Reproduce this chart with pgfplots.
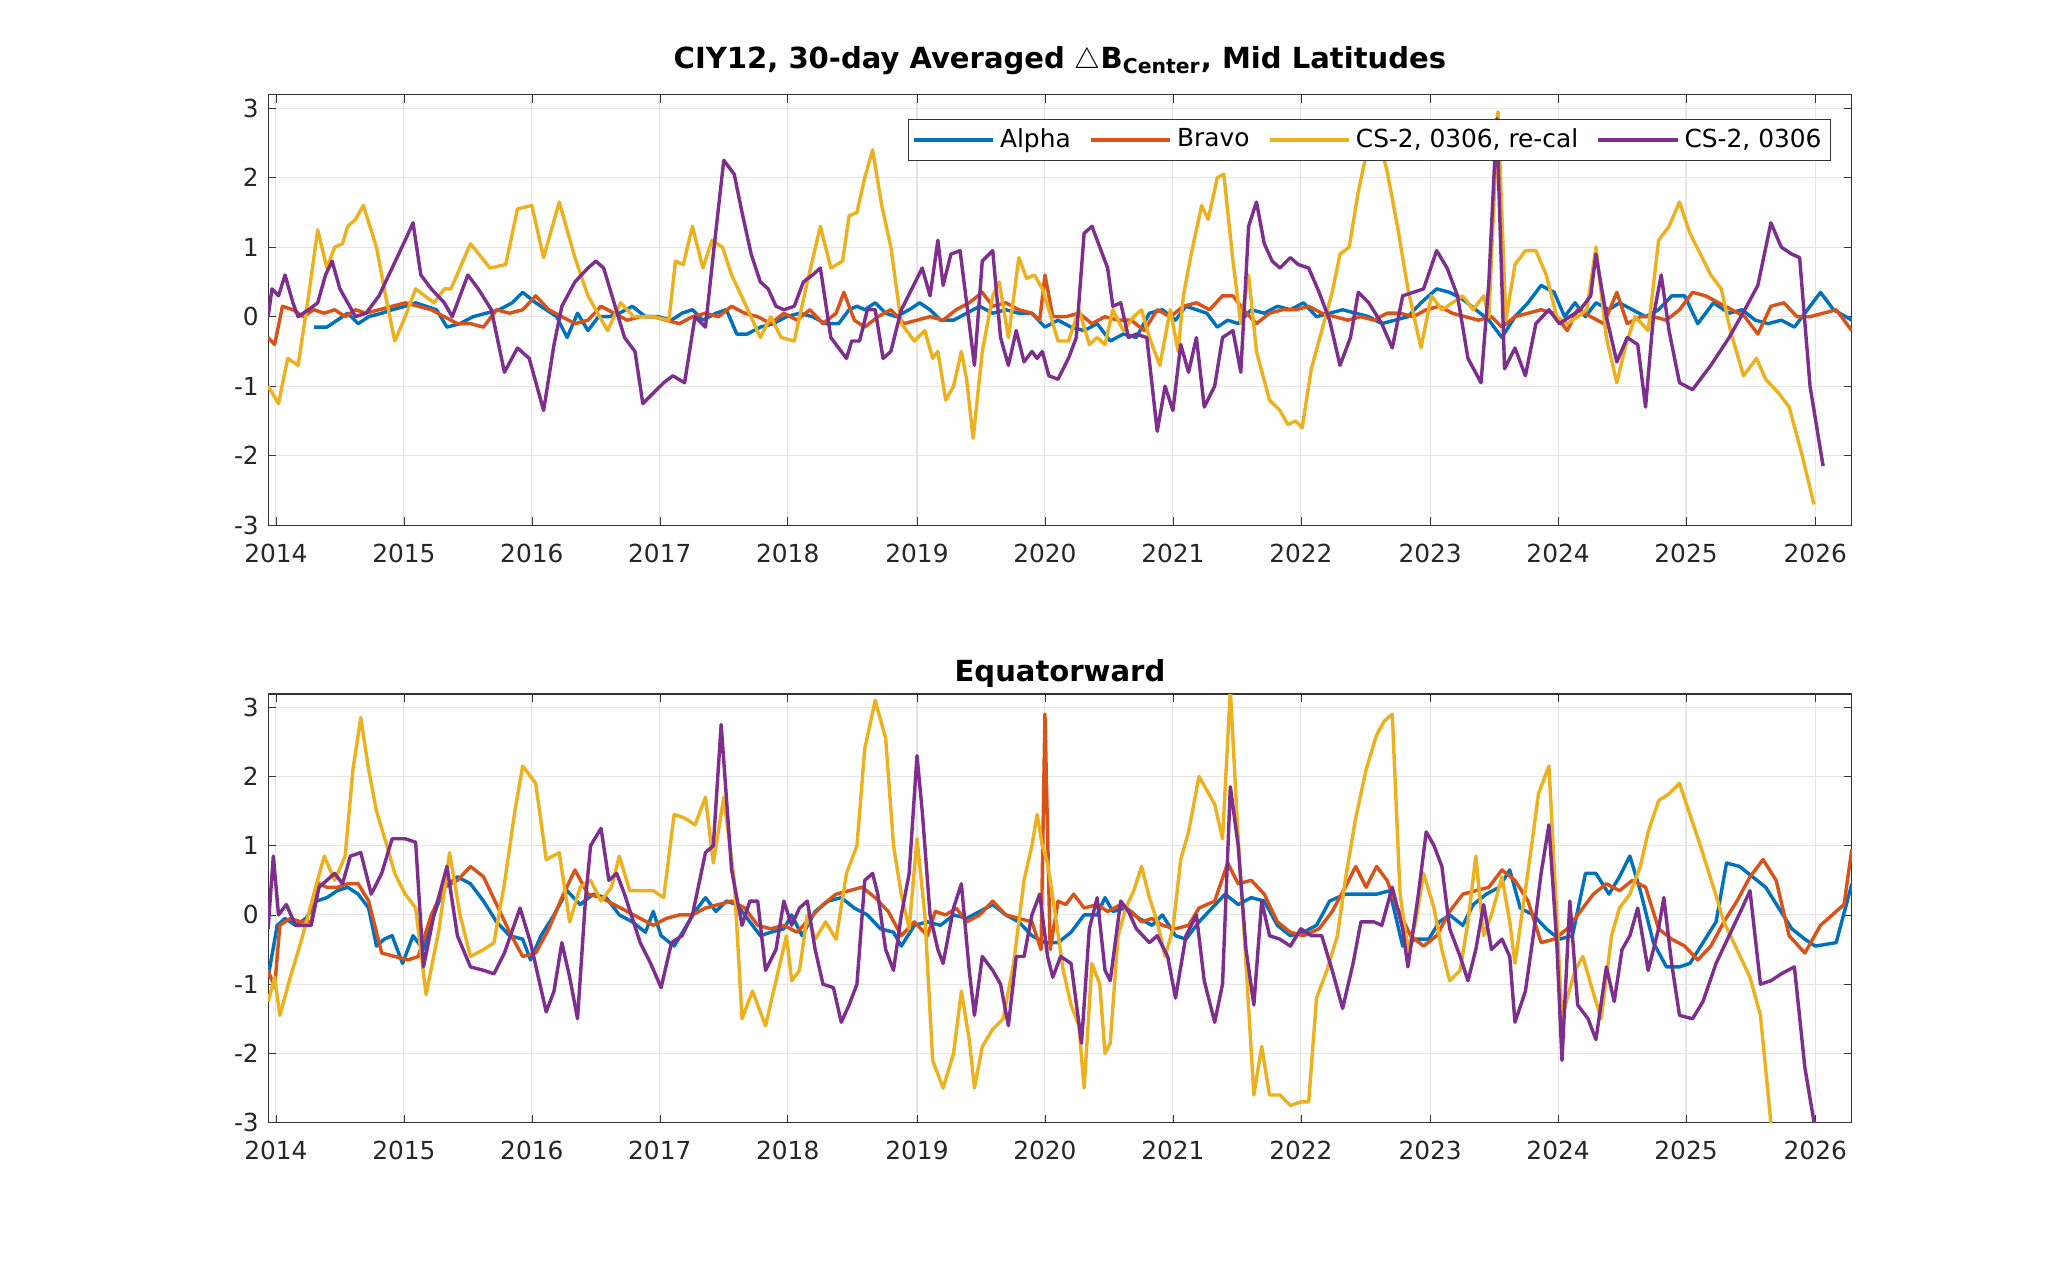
\documentclass[border=0pt]{standalone}
\usepackage{pgfplots}
\pgfplotsset{compat=1.18}
\usepackage{fontspec}
\setmainfont{DejaVu Sans}
\definecolor{mA}{RGB}{0,114,189}
\definecolor{mB}{RGB}{217,83,25}
\definecolor{mC}{RGB}{237,177,32}
\definecolor{mD}{RGB}{126,47,142}
\pgfplotsset{myax/.style={
 scale only axis, width=599.6pt,
 xmin=205, xmax=1418, ymin=-3, ymax=3.19,
 xtick={211,309,407,505,603,702,800,898,996,1095,1193,1291,1390},
 xticklabels={2014,2015,2016,2017,2018,2019,2020,2021,2022,2023,2024,2025,2026},
 ytick={-3,-2,-1,0,1,2,3},
 yticklabels={-3,-2,-1,0,1,2,3},
 grid=major, major grid style={gray!20},
 tick align=inside, major tick length=3pt,
 axis line style={black!80}, tick style={black!80},
 ticklabel style={font=\fontsize{9.4}{11}\selectfont, text=black!85},
 xticklabel style={yshift=-3.5pt},
 title style={font=\bfseries\fontsize{11}{13}\selectfont, yshift=-2pt},
 every axis plot/.append style={line width=1.3pt, line join=round},
 clip=true}}
\begin{document}
\begin{tikzpicture}[x=1pt,y=1pt]
\path[use as bounding box] (0,0) rectangle (775,477.5);
\begin{axis}[myax, height=162.9pt, at={(101.5pt,278.65pt)}, anchor=south west,
 title={CIY12, 30-day Averaged $\triangle$B\textsubscript{Center}, Mid Latitudes},
 legend columns=4, legend style={at={(0.987,0.945)}, anchor=north east, font=\fontsize{9.4}{11}\selectfont, draw=black!80, inner sep=1.5pt, /tikz/every even column/.append style={column sep=5pt}},
 legend image code/.code={\draw[#1, line width=1.3pt] (0pt,0pt) -- (30pt,0pt);}]
\addplot[mA] coordinates {(240,-0.15)(250,-0.15)(258,-0.05)(266,0.05)(274,-0.1)(282,0.0)(292,0.05)(300,0.1)(310,0.15)(318,0.2)(326,0.15)(334,0.1)(342,-0.15)(352,-0.1)(362,0.0)(372,0.05)(382,0.1)(392,0.2)(400,0.35)(410,0.2)(418,0.1)(426,0.0)(434,-0.3)(442,0.05)(450,-0.2)(458,0.0)(466,0.0)(474,0.05)(484,0.15)(494,0.0)(504,0.0)(514,-0.05)(522,0.05)(530,0.1)(538,-0.05)(548,0.05)(556,0.1)(564,-0.25)(572,-0.25)(582,-0.15)(592,-0.1)(602,0.0)(612,0.05)(622,0.0)(632,-0.1)(642,-0.1)(650,0.1)(656,0.15)(662,0.1)(670,0.2)(678,0.05)(686,0.0)(696,0.1)(704,0.2)(712,0.1)(720,-0.05)(730,-0.05)(740,0.05)(750,0.15)(760,0.05)(770,0.1)(780,0.05)(790,0.05)(800,-0.15)(810,-0.05)(820,-0.15)(830,-0.2)(840,-0.1)(850,-0.35)(860,-0.25)(870,-0.3)(880,0.05)(890,0.1)(900,-0.05)(908,0.15)(916,0.1)(924,0.05)(932,-0.15)(940,-0.05)(948,-0.1)(958,0.1)(968,0.05)(978,0.15)(988,0.1)(998,0.2)(1008,0.0)(1018,0.05)(1028,0.1)(1038,0.05)(1048,0.0)(1058,-0.1)(1068,-0.05)(1078,0.0)(1088,0.2)(1100,0.4)(1110,0.35)(1120,0.25)(1130,0.1)(1140,-0.05)(1150,-0.3)(1160,0.0)(1170,0.2)(1180,0.45)(1190,0.35)(1198,0.0)(1206,0.2)(1214,0.0)(1222,0.2)(1232,0.1)(1240,0.2)(1250,0.1)(1260,0.0)(1270,0.1)(1280,0.3)(1290,0.3)(1300,-0.1)(1312,0.2)(1324,0.05)(1334,0.1)(1344,-0.05)(1354,-0.1)(1364,-0.05)(1374,-0.15)(1384,0.1)(1394,0.35)(1404,0.1)(1418,-0.05)};
\addlegendentry{Alpha}
\addplot[mB] coordinates {(205,-0.3)(210,-0.4)(216,0.15)(224,0.1)(232,0.0)(240,0.1)(248,0.05)(256,0.1)(264,0.0)(272,0.1)(280,0.05)(290,0.1)(300,0.15)(310,0.2)(320,0.15)(330,0.1)(340,0.0)(350,-0.1)(360,-0.1)(370,-0.15)(380,0.1)(390,0.05)(400,0.1)(410,0.3)(420,0.1)(430,0.0)(440,-0.1)(450,-0.05)(460,0.15)(470,0.05)(480,-0.05)(490,0.0)(500,0.0)(510,-0.05)(520,-0.1)(530,0.0)(540,0.05)(550,0.0)(560,0.15)(570,0.05)(580,0.0)(590,-0.1)(600,0.05)(610,-0.05)(620,0.1)(630,-0.1)(640,0.05)(646,0.35)(654,-0.05)(662,-0.15)(672,0.0)(682,0.1)(692,-0.1)(702,-0.05)(712,0.0)(722,-0.05)(732,0.1)(742,0.2)(752,0.35)(760,0.15)(770,0.2)(780,0.1)(790,0.05)(796,-0.05)(800,0.6)(806,0.0)(816,0.0)(826,0.05)(836,-0.1)(846,0.0)(856,-0.05)(866,-0.05)(876,-0.2)(886,0.1)(896,0.0)(906,0.15)(916,0.2)(926,0.1)(936,0.3)(944,0.3)(952,0.1)(962,-0.1)(972,0.05)(982,0.1)(992,0.1)(1002,0.15)(1012,0.05)(1022,0.0)(1032,-0.05)(1042,0.0)(1052,-0.05)(1062,0.05)(1072,0.05)(1082,0.0)(1092,0.1)(1102,0.15)(1112,0.05)(1122,0.0)(1132,-0.05)(1142,0.0)(1150,-0.15)(1160,0.0)(1170,0.05)(1180,0.1)(1190,0.05)(1200,-0.2)(1208,0.1)(1218,0.0)(1228,-0.1)(1238,0.35)(1246,-0.1)(1256,0.0)(1266,0.0)(1276,-0.05)(1286,0.1)(1296,0.35)(1306,0.3)(1316,0.2)(1326,0.1)(1336,0.0)(1346,-0.25)(1356,0.15)(1366,0.2)(1376,0.0)(1386,0.0)(1396,0.05)(1406,0.1)(1418,-0.2)};
\addlegendentry{Bravo}
\addplot[mC] coordinates {(205,-1.0)(213,-1.25)(220,-0.6)(228,-0.7)(236,0.3)(243,1.25)(250,0.7)(256,1.0)(262,1.05)(266,1.3)(272,1.4)(278,1.6)(288,1.0)(295,0.3)(302,-0.35)(310,0.0)(318,0.4)(325,0.3)(332,0.2)(340,0.4)(345,0.4)(360,1.05)(375,0.7)(387,0.75)(396,1.55)(407,1.6)(416,0.85)(428,1.65)(440,0.85)(450,0.3)(465,-0.2)(475,0.2)(485,0.0)(500,0.0)(512,-0.05)(517,0.8)(523,0.75)(530,1.3)(538,0.7)(545,1.1)(553,1.0)(560,0.6)(570,0.2)(582,-0.3)(590,0.0)(598,-0.3)(608,-0.35)(618,0.5)(628,1.3)(636,0.7)(645,0.8)(650,1.45)(656,1.5)(662,2.0)(668,2.4)(675,1.6)(682,1.0)(690,-0.1)(700,-0.35)(708,-0.2)(714,-0.6)(718,-0.5)(724,-1.2)(730,-1.0)(736,-0.5)(740,-0.9)(745,-1.75)(752,-0.5)(760,0.3)(765,0.5)(772,-0.3)(780,0.85)(786,0.55)(792,0.6)(798,0.4)(803,0.1)(810,-0.35)(818,-0.35)(826,0.1)(834,-0.4)(840,-0.3)(846,-0.4)(852,0.1)(860,-0.2)(868,0.0)(874,0.1)(880,-0.3)(888,-0.7)(896,0.1)(902,-0.5)(906,0.3)(912,0.9)(920,1.6)(925,1.4)(932,2.0)(937,2.05)(944,0.8)(950,-0.1)(956,0.6)(962,-0.5)(972,-1.2)(980,-1.35)(986,-1.55)(992,-1.5)(997,-1.6)(1004,-0.75)(1012,-0.2)(1020,0.35)(1026,0.9)(1033,1.0)(1040,1.8)(1048,2.5)(1055,2.6)(1062,2.1)(1070,1.3)(1078,0.4)(1088,-0.45)(1096,0.3)(1104,0.1)(1112,0.2)(1120,0.3)(1128,0.1)(1136,0.3)(1140,0.0)(1147,2.95)(1153,-0.05)(1160,0.75)(1168,0.95)(1176,0.95)(1184,0.6)(1192,0.0)(1200,-0.1)(1208,0.0)(1215,0.1)(1222,1.0)(1230,-0.3)(1238,-0.95)(1245,-0.4)(1252,0.0)(1262,-0.2)(1270,1.1)(1278,1.3)(1286,1.65)(1294,1.2)(1302,0.9)(1310,0.6)(1318,0.4)(1325,-0.2)(1335,-0.85)(1345,-0.6)(1352,-0.9)(1362,-1.1)(1370,-1.3)(1380,-2.0)(1389,-2.7)};
\addlegendentry{CS-2, 0306, re-cal}
\addplot[mD] coordinates {(205,0.0)(208,0.4)(213,0.3)(218,0.6)(224,0.2)(228,0.0)(236,0.1)(243,0.2)(249,0.6)(254,0.8)(260,0.4)(266,0.2)(272,0.0)(280,0.05)(290,0.3)(300,0.7)(310,1.1)(316,1.35)(322,0.6)(330,0.4)(340,0.2)(346,0.0)(350,0.2)(358,0.6)(366,0.4)(376,0.1)(386,-0.8)(396,-0.45)(405,-0.6)(416,-1.35)(424,-0.4)(430,0.15)(440,0.5)(450,0.7)(456,0.8)(462,0.7)(470,0.2)(478,-0.3)(486,-0.5)(492,-1.25)(500,-1.1)(508,-0.95)(515,-0.85)(524,-0.95)(532,0.0)(540,-0.15)(546,0.9)(554,2.25)(562,2.05)(568,1.5)(575,0.9)(582,0.5)(588,0.4)(594,0.15)(600,0.1)(608,0.15)(615,0.5)(622,0.6)(628,0.7)(636,-0.3)(644,-0.5)(648,-0.6)(652,-0.35)(658,-0.35)(664,0.1)(670,0.1)(676,-0.6)(682,-0.5)(690,0.1)(698,0.4)(706,0.7)(712,0.3)(718,1.1)(722,0.45)(728,0.9)(735,0.95)(742,-0.1)(746,-0.7)(752,0.8)(760,0.95)(766,-0.3)(772,-0.7)(778,-0.2)(784,-0.65)(790,-0.5)(794,-0.6)(798,-0.5)(803,-0.85)(810,-0.9)(818,-0.6)(824,-0.3)(830,1.2)(836,1.3)(842,1.0)(848,0.7)(852,0.15)(858,0.2)(864,-0.3)(870,-0.25)(878,-0.3)(886,-1.65)(892,-1.0)(898,-1.35)(904,-0.4)(910,-0.8)(916,-0.3)(922,-1.3)(930,-1.0)(936,-0.3)(944,-0.2)(950,-0.8)(956,1.3)(962,1.65)(968,1.05)(974,0.8)(980,0.7)(988,0.85)(994,0.75)(1002,0.7)(1010,0.35)(1018,-0.05)(1026,-0.7)(1034,-0.3)(1040,0.35)(1048,0.2)(1058,-0.1)(1066,-0.45)(1074,0.3)(1082,0.35)(1090,0.4)(1100,0.95)(1108,0.7)(1116,0.3)(1124,-0.6)(1134,-0.95)(1140,0.5)(1146,2.85)(1152,-0.75)(1160,-0.45)(1168,-0.85)(1176,-0.1)(1186,0.1)(1194,-0.1)(1202,0.0)(1210,0.1)(1218,0.3)(1222,0.9)(1230,0.0)(1238,-0.65)(1246,-0.3)(1254,-0.4)(1260,-1.3)(1266,0.0)(1272,0.6)(1278,-0.2)(1286,-0.95)(1296,-1.05)(1310,-0.7)(1324,-0.3)(1336,0.1)(1346,0.45)(1356,1.35)(1364,1.0)(1372,0.9)(1378,0.85)(1386,-1.0)(1396,-2.15)};
\addlegendentry{CS-2, 0306}
\end{axis}
\begin{axis}[myax, height=162.3pt, at={(101.5pt,52.45pt)}, anchor=south west, title={Equatorward}, title style={yshift=-5pt}]
\addplot[mA] coordinates {(205,-0.9)(212,-0.15)(218,-0.05)(226,-0.15)(234,-0.05)(242,0.2)(250,0.25)(258,0.35)(266,0.4)(274,0.3)(282,0.1)(288,-0.45)(294,-0.35)(300,-0.3)(308,-0.7)(316,-0.3)(324,-0.5)(332,0.0)(340,0.4)(350,0.55)(360,0.45)(370,0.2)(380,-0.1)(390,-0.3)(400,-0.35)(406,-0.65)(414,-0.3)(424,0.0)(434,0.35)(444,0.15)(454,0.3)(464,0.25)(474,0.0)(484,-0.1)(494,-0.25)(500,0.05)(506,-0.3)(516,-0.45)(524,-0.2)(532,0.05)(540,0.25)(548,0.05)(556,0.2)(564,0.15)(572,-0.05)(582,-0.3)(590,-0.25)(600,-0.2)(606,0.0)(614,-0.3)(624,0.05)(634,0.2)(644,0.25)(654,0.1)(664,0.0)(674,-0.2)(684,-0.25)(690,-0.45)(700,-0.15)(710,-0.1)(720,-0.15)(730,0.0)(740,-0.05)(750,0.05)(760,0.15)(770,0.0)(780,-0.1)(790,-0.3)(800,-0.4)(810,-0.4)(820,-0.25)(830,0.0)(840,0.0)(846,0.25)(852,0.05)(862,0.1)(872,-0.05)(882,-0.15)(890,0.0)(900,-0.3)(908,-0.35)(918,-0.1)(928,0.1)(938,0.3)(948,0.15)(958,0.25)(968,0.2)(978,-0.15)(988,-0.3)(998,-0.25)(1008,-0.15)(1018,0.2)(1030,0.3)(1042,0.3)(1054,0.3)(1064,0.35)(1074,-0.45)(1084,-0.35)(1094,-0.35)(1102,-0.1)(1110,0.0)(1120,-0.15)(1128,0.15)(1138,0.3)(1148,0.4)(1156,0.65)(1164,0.1)(1174,0.0)(1184,-0.2)(1194,-0.35)(1204,-0.3)(1214,0.6)(1222,0.6)(1232,0.3)(1240,0.55)(1248,0.85)(1256,0.35)(1266,-0.4)(1276,-0.75)(1286,-0.75)(1294,-0.7)(1304,-0.4)(1314,-0.1)(1322,0.75)(1332,0.7)(1342,0.55)(1352,0.4)(1362,0.1)(1372,-0.2)(1382,-0.35)(1390,-0.45)(1406,-0.4)(1418,0.45)};
\addplot[mB] coordinates {(205,-0.8)(210,-1.05)(214,-0.15)(222,-0.05)(230,-0.1)(238,-0.1)(244,0.45)(250,0.4)(258,0.4)(266,0.45)(274,0.45)(282,0.2)(292,-0.55)(302,-0.6)(312,-0.65)(320,-0.6)(330,0.0)(340,0.4)(350,0.5)(360,0.7)(370,0.55)(380,0.15)(390,-0.25)(400,-0.6)(410,-0.55)(420,-0.2)(430,0.25)(440,0.65)(450,0.3)(460,0.25)(470,0.15)(480,0.05)(490,-0.05)(500,-0.15)(510,-0.05)(520,0.0)(530,0.0)(540,0.1)(550,0.15)(560,0.2)(570,0.1)(580,-0.15)(590,-0.2)(600,-0.15)(610,-0.25)(620,-0.05)(630,0.15)(640,0.3)(650,0.35)(660,0.4)(670,0.25)(680,0.05)(690,-0.3)(700,-0.1)(710,-0.3)(716,0.05)(724,0.0)(732,0.1)(740,-0.1)(750,0.0)(760,0.2)(770,0.0)(780,-0.05)(790,-0.1)(797,-0.5)(800,2.9)(804,-0.5)(810,0.2)(816,0.15)(822,0.3)(830,0.1)(840,0.15)(848,0.05)(858,0.15)(866,0.05)(874,-0.1)(882,-0.05)(890,-0.15)(900,-0.2)(910,-0.15)(918,0.1)(930,0.2)(940,0.75)(948,0.45)(958,0.5)(968,0.3)(978,-0.1)(988,-0.25)(998,-0.3)(1010,-0.2)(1020,0.05)(1030,0.4)(1038,0.7)(1046,0.4)(1054,0.7)(1062,0.5)(1070,0.1)(1080,-0.3)(1090,-0.45)(1100,-0.3)(1110,0.05)(1120,0.3)(1130,0.35)(1140,0.4)(1150,0.65)(1160,0.5)(1170,0.2)(1180,-0.4)(1190,-0.35)(1200,-0.2)(1210,0.05)(1220,0.3)(1230,0.45)(1240,0.35)(1250,0.5)(1260,0.4)(1270,-0.2)(1280,-0.35)(1290,-0.45)(1300,-0.65)(1310,-0.45)(1320,-0.1)(1330,0.2)(1340,0.55)(1350,0.8)(1360,0.5)(1370,-0.3)(1382,-0.55)(1394,-0.15)(1406,0.05)(1412,0.15)(1418,0.95)};
\addplot[mC] coordinates {(205,-1.25)(210,-0.9)(214,-1.45)(222,-0.9)(230,-0.4)(240,0.3)(248,0.85)(256,0.5)(264,0.85)(270,2.1)(276,2.85)(282,2.1)(288,1.5)(296,1.0)(302,0.6)(310,0.3)(318,0.1)(326,-1.15)(336,-0.2)(344,0.9)(352,0.0)(360,-0.6)(370,-0.5)(378,-0.4)(386,0.45)(394,1.5)(400,2.15)(410,1.9)(418,0.8)(428,0.9)(436,-0.1)(444,0.4)(452,0.5)(460,0.2)(468,0.4)(474,0.85)(482,0.35)(490,0.35)(500,0.35)(508,0.25)(516,1.45)(524,1.4)(532,1.3)(540,1.7)(546,0.75)(554,1.7)(562,0.5)(568,-1.5)(576,-1.1)(586,-1.6)(594,-0.95)(602,-0.3)(606,-0.95)(612,-0.8)(618,0.0)(624,-0.35)(632,-0.1)(640,-0.35)(648,0.6)(656,1.0)(662,2.4)(670,3.1)(678,2.55)(684,1.0)(690,0.3)(696,-0.2)(702,1.1)(708,0.0)(714,-2.1)(722,-2.5)(730,-2.0)(736,-1.1)(742,-1.8)(746,-2.5)(752,-1.9)(760,-1.65)(768,-1.5)(776,-0.7)(784,0.5)(790,1.0)(794,1.45)(798,1.0)(802,0.75)(808,0.0)(814,-0.8)(820,-1.3)(826,-1.6)(830,-2.5)(836,-0.7)(842,-1.0)(846,-2.0)(850,-1.85)(856,-0.3)(862,0.1)(868,0.35)(874,0.7)(880,0.25)(886,-0.1)(892,-0.6)(898,-0.2)(904,0.8)(910,1.2)(918,2.0)(924,1.8)(930,1.6)(936,1.1)(942,3.25)(948,1.1)(954,-0.7)(960,-2.6)(966,-1.9)(972,-2.6)(980,-2.6)(988,-2.75)(996,-2.7)(1002,-2.7)(1008,-1.2)(1016,-0.8)(1024,-0.3)(1030,0.5)(1038,1.4)(1046,2.1)(1054,2.6)(1060,2.8)(1066,2.9)(1072,0.3)(1078,-0.5)(1084,-0.1)(1090,0.6)(1098,0.1)(1104,-0.5)(1110,-0.95)(1118,-0.8)(1124,-0.1)(1130,0.85)(1136,-0.3)(1142,0.0)(1150,0.55)(1156,-0.1)(1160,-0.7)(1166,0.1)(1172,0.9)(1178,1.75)(1186,2.15)(1192,0.0)(1196,-1.5)(1200,-1.2)(1206,-0.8)(1212,-0.6)(1218,-1.0)(1226,-1.5)(1234,-0.3)(1240,0.1)(1248,0.3)(1256,0.7)(1262,1.2)(1270,1.65)(1278,1.75)(1286,1.9)(1294,1.45)(1302,1.0)(1312,0.4)(1320,-0.1)(1330,-0.5)(1340,-0.9)(1348,-1.45)(1356,-3.0)};
\addplot[mD] coordinates {(205,-0.2)(209,0.85)(213,0.0)(219,0.15)(226,-0.15)(232,-0.15)(238,-0.15)(244,0.4)(250,0.5)(256,0.6)(262,0.45)(268,0.85)(276,0.9)(284,0.3)(292,0.6)(300,1.1)(310,1.1)(318,1.05)(324,-0.75)(332,0.0)(342,0.7)(350,-0.3)(360,-0.75)(370,-0.8)(378,-0.85)(386,-0.55)(398,0.1)(406,-0.4)(418,-1.4)(424,-1.1)(430,-0.4)(436,-0.9)(442,-1.5)(448,0.2)(452,1.0)(460,1.25)(466,0.5)(472,0.6)(478,0.3)(484,-0.05)(490,-0.4)(498,-0.7)(506,-1.05)(514,-0.4)(522,-0.3)(530,0.0)(540,0.9)(546,1.0)(552,2.75)(560,0.65)(568,-0.15)(574,0.2)(580,0.2)(586,-0.8)(594,-0.5)(600,0.2)(606,-0.15)(612,0.1)(618,0.2)(624,-0.5)(630,-1.0)(638,-1.05)(644,-1.55)(650,-1.3)(656,-1.0)(662,0.5)(668,0.6)(672,0.3)(678,-0.5)(684,-0.8)(690,0.0)(696,0.6)(702,2.3)(706,1.5)(712,0.0)(718,-0.5)(722,-0.7)(730,0.1)(736,0.45)(742,-0.8)(746,-1.45)(752,-0.6)(760,-0.8)(766,-1.0)(772,-1.6)(778,-0.6)(784,-0.6)(790,0.0)(796,0.3)(802,-0.6)(806,-0.9)(812,-0.6)(820,-0.7)(828,-1.85)(834,-0.2)(840,0.25)(846,-0.8)(850,-0.95)(858,0.2)(864,0.05)(870,-0.2)(880,-0.4)(886,-0.3)(894,-0.6)(900,-1.2)(908,-0.3)(916,0.0)(922,-0.95)(930,-1.55)(936,-1.0)(942,1.85)(948,1.0)(954,-0.5)(960,-1.3)(966,0.2)(972,-0.3)(980,-0.35)(988,-0.45)(996,-0.2)(1004,-0.3)(1012,-0.3)(1020,-0.8)(1028,-1.35)(1036,-0.7)(1042,-0.1)(1052,-0.1)(1058,-0.15)(1066,0.4)(1074,-0.2)(1078,-0.75)(1086,0.3)(1092,1.2)(1098,1.0)(1104,0.7)(1110,-0.2)(1118,-0.6)(1124,-0.95)(1130,-0.5)(1136,0.15)(1142,-0.5)(1150,-0.35)(1156,-0.6)(1160,-1.55)(1168,-1.1)(1174,-0.3)(1180,0.6)(1186,1.3)(1192,-0.4)(1196,-2.1)(1202,0.2)(1208,-1.3)(1216,-1.5)(1222,-1.8)(1230,-0.75)(1236,-1.25)(1242,-0.5)(1248,-0.3)(1254,0.1)(1262,-0.8)(1270,-0.2)(1274,0.25)(1280,-0.7)(1286,-1.45)(1296,-1.5)(1304,-1.25)(1314,-0.7)(1324,-0.3)(1334,0.1)(1340,0.35)(1348,-1.0)(1356,-0.95)(1364,-0.85)(1374,-0.75)(1382,-2.2)(1390,-3.1)};
\end{axis}
\end{tikzpicture}
\end{document}
